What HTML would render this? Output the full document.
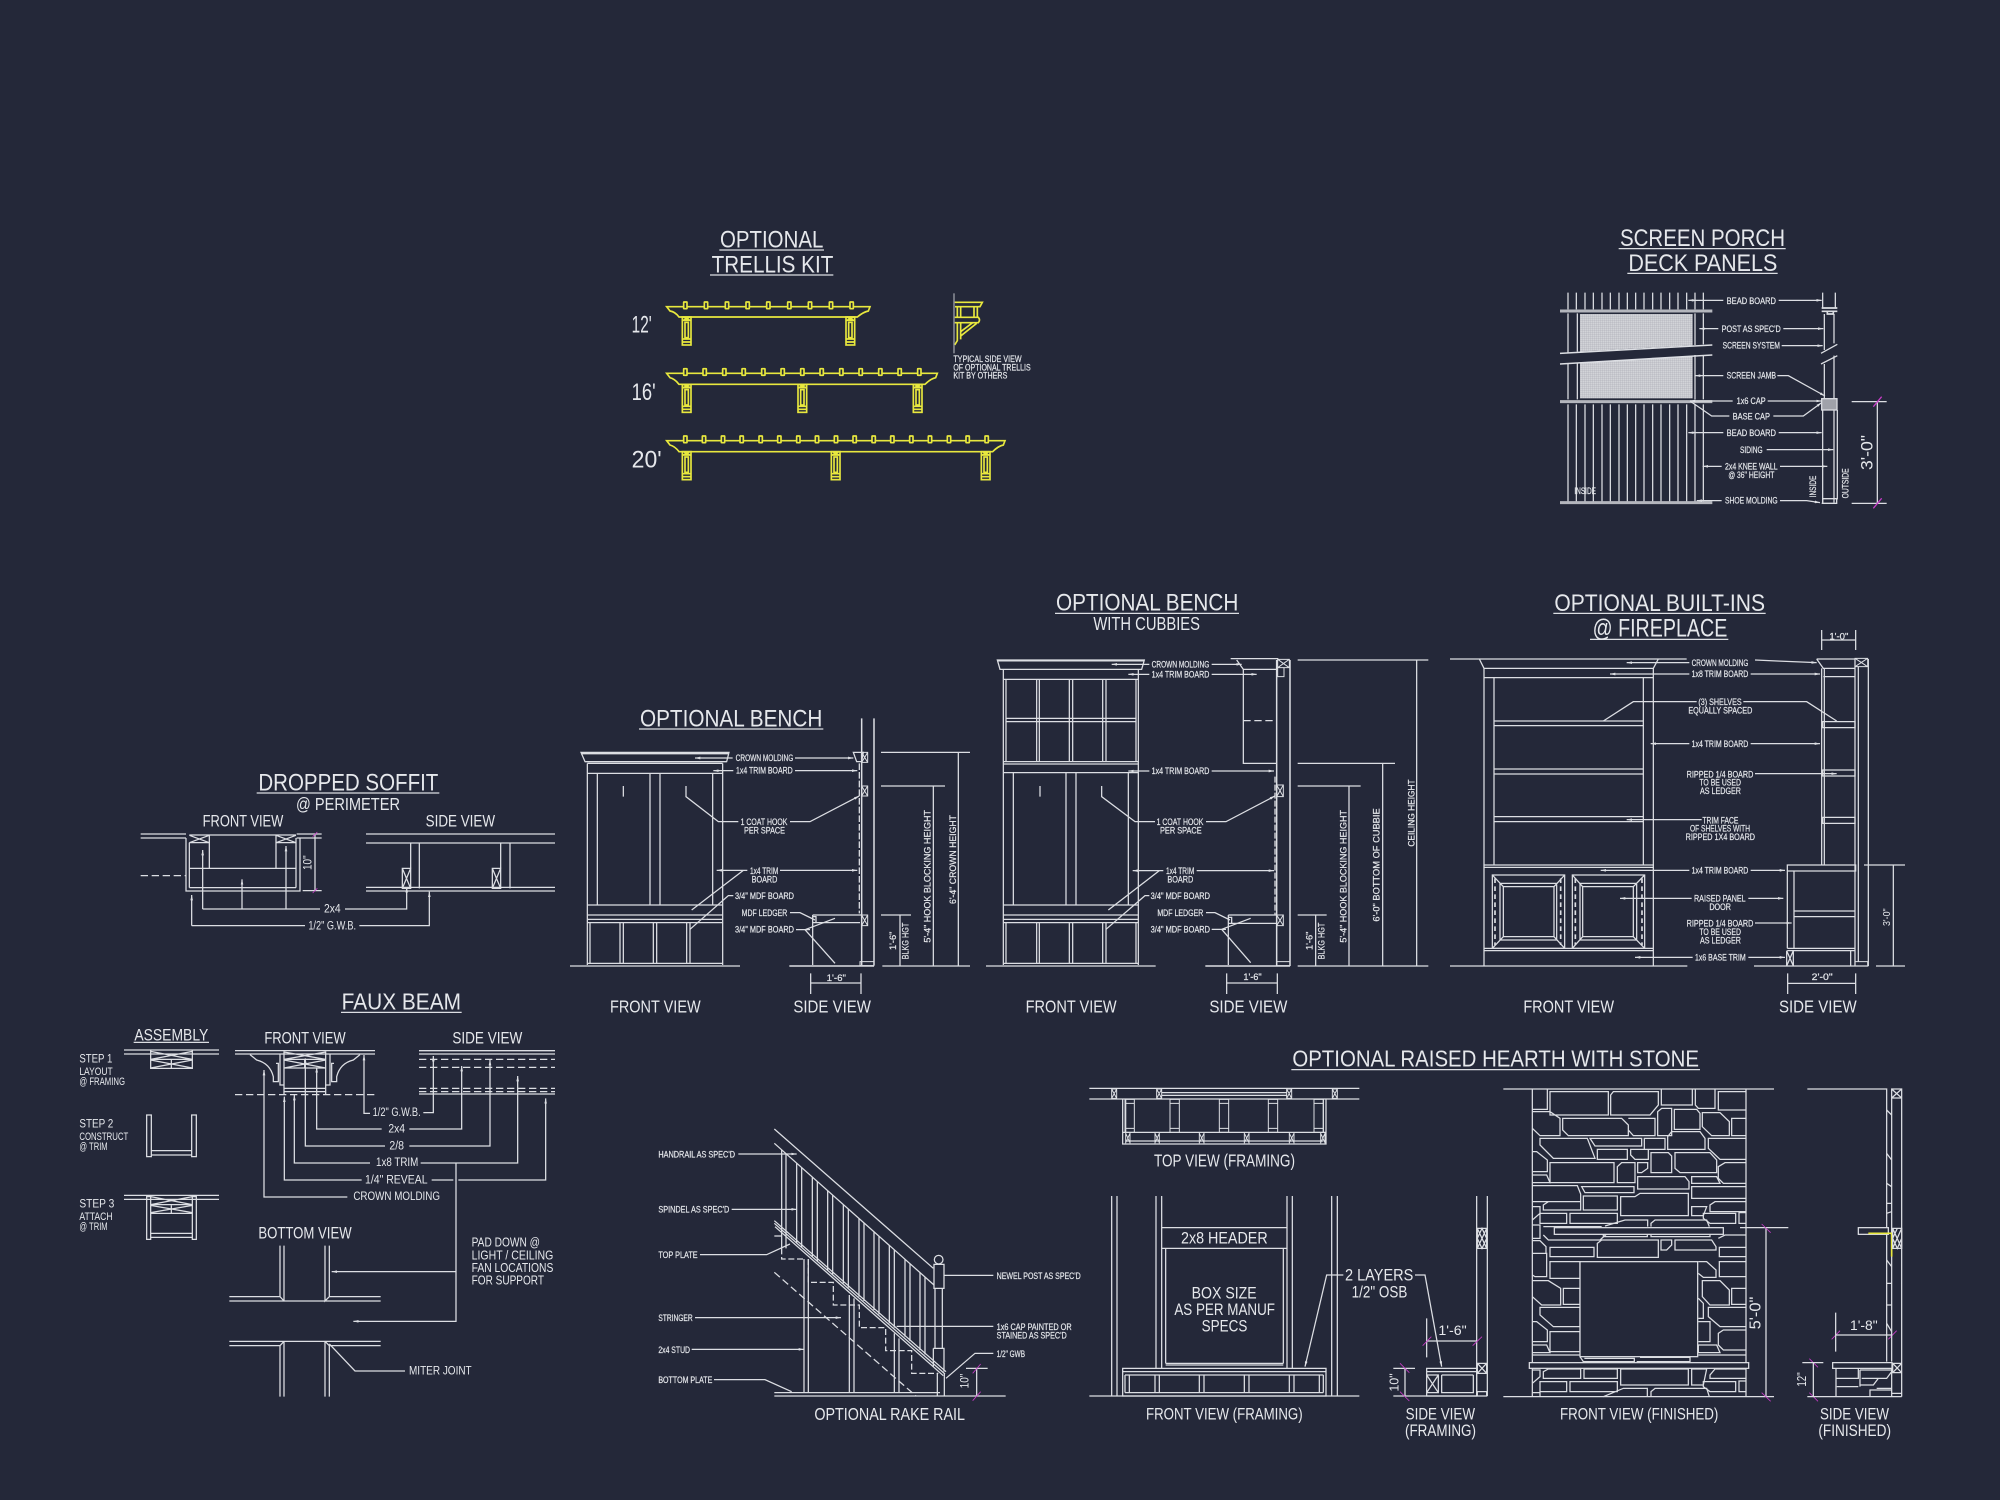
<!DOCTYPE html>
<html><head><meta charset="utf-8"><title>Optional Details</title>
<style>
html,body{margin:0;padding:0;background:#242839;width:2000px;height:1500px;overflow:hidden}
svg{display:block;filter:blur(.3px)}
g{fill:none;stroke:#dcdee3;stroke-width:3.8}
text{fill:#e6e8ec;stroke:none;font-family:"Liberation Sans",sans-serif}
.s{font-size:27px;stroke:#e6e8ec;stroke-width:.6}.m{font-size:36px}.l{font-size:50px}.t{font-size:72px}
.a{marker-end:url(#a)}
.th{stroke-width:9;stroke:#b4b6bd}
.d{stroke-dasharray:22 11}
.mg{stroke:#c83cc8}
.y{stroke:#e8e83e;stroke-width:5}
.f{fill:#242839}
.sm{stroke-width:2.5}
</style></head><body>
<svg xmlns="http://www.w3.org/2000/svg" width="2000" height="1500" viewBox="0 0 2000 1500">
<defs>
<marker id="a" markerUnits="userSpaceOnUse" markerWidth="16" markerHeight="8" refX="16" refY="4" orient="auto"><path d="M0 0L16 4L0 8Z" fill="#dcdee3" stroke="none"/></marker>
<pattern id="mesh" patternUnits="userSpaceOnUse" width="6" height="6"><rect width="6" height="6" fill="#d2d4d8"/><path d="M0 0H6M0 0V6" stroke="#9a9ca6" stroke-width="1.2"/></pattern>
<g id="p" style="stroke:#e8e83e;stroke-width:5"><rect x="0" y="0" width="26" height="84"/><rect x="8" y="16" width="10" height="46" fill="#242839"/><path d="M0 10H26M0 66H26M0 75H26M3 0L23 10M23 0L3 10"/></g>
<rect id="r" x="-5" y="-14" width="10" height="20" rx="1" fill="#242839"/>
</defs>

<!-- TRELLIS -->
<g transform="translate(600 210) scale(.33333)">
<path d="M358 120H672M330 195H700"/>
<text class="t" x="360" y="112" textLength="310" lengthAdjust="spacingAndGlyphs">OPTIONAL</text>
<text class="t" x="335" y="187" textLength="365" lengthAdjust="spacingAndGlyphs">TRELLIS KIT</text>
<text class="t" x="95" y="368" textLength="60" lengthAdjust="spacingAndGlyphs">12'</text>
<text class="t" x="95" y="570" textLength="72" lengthAdjust="spacingAndGlyphs">16'</text>
<text class="t" x="95" y="773" textLength="90" lengthAdjust="spacingAndGlyphs">20'</text>
<g class="y">
<path d="M200 290H810L805 303Q790 306 772 321H237Q225 305 210 303Z"/>
<path d="M200 490H1012L1007 503Q992 506 975 523H237Q225 507 210 503Z"/>
<path d="M200 692H1215L1210 705Q1195 708 1178 725H237Q225 709 210 705Z"/>
<use href="#r" x="256" y="290"/><use href="#r" x="318" y="290"/><use href="#r" x="381" y="290"/><use href="#r" x="443" y="290"/><use href="#r" x="505" y="290"/><use href="#r" x="568" y="290"/><use href="#r" x="630" y="290"/><use href="#r" x="693" y="290"/><use href="#r" x="755" y="290"/>
<use href="#r" x="256" y="490"/><use href="#r" x="314" y="490"/><use href="#r" x="373" y="490"/><use href="#r" x="431" y="490"/><use href="#r" x="490" y="490"/><use href="#r" x="548" y="490"/><use href="#r" x="607" y="490"/><use href="#r" x="665" y="490"/><use href="#r" x="724" y="490"/><use href="#r" x="782" y="490"/><use href="#r" x="841" y="490"/><use href="#r" x="899" y="490"/><use href="#r" x="958" y="490"/>
<use href="#r" x="256" y="692"/><use href="#r" x="312" y="692"/><use href="#r" x="369" y="692"/><use href="#r" x="425" y="692"/><use href="#r" x="482" y="692"/><use href="#r" x="538" y="692"/><use href="#r" x="595" y="692"/><use href="#r" x="651" y="692"/><use href="#r" x="708" y="692"/><use href="#r" x="764" y="692"/><use href="#r" x="821" y="692"/><use href="#r" x="877" y="692"/><use href="#r" x="934" y="692"/><use href="#r" x="990" y="692"/><use href="#r" x="1047" y="692"/><use href="#r" x="1103" y="692"/><use href="#r" x="1160" y="692"/>
<use href="#p" x="247" y="321"/><use href="#p" x="738" y="321"/>
<use href="#p" x="247" y="523"/><use href="#p" x="594" y="523"/><use href="#p" x="940" y="523"/>
<use href="#p" x="247" y="725"/><use href="#p" x="694" y="725"/><use href="#p" x="1144" y="725"/>
<path d="M1064 277H1147L1140 290H1065M1072 290V322M1082 290V322M1122 290V322M1132 290V322M1064 322H1135Q1142 330 1135 338H1064M1072 338V392L1064 405M1082 338V378L1130 340M1082 365L1118 338M1082 378V388"/>
</g>
<path d="M1062 250V430" stroke="#9a9ca5" stroke-width="4"/>
<text class="s" x="1060" y="456" textLength="205" lengthAdjust="spacingAndGlyphs">TYPICAL SIDE VIEW</text>
<text class="s" x="1060" y="481" textLength="232" lengthAdjust="spacingAndGlyphs">OF OPTIONAL TRELLIS</text>
<text class="s" x="1060" y="506" textLength="162" lengthAdjust="spacingAndGlyphs">KIT BY OTHERS</text>
</g>

<!-- SCREEN PORCH -->
<g transform="translate(1540 210) scale(.33333)">
<path d="M236 116H737M262 190H713"/>
<text class="t" x="240" y="108" textLength="495" lengthAdjust="spacingAndGlyphs">SCREEN PORCH</text>
<text class="t" x="265" y="183" textLength="447" lengthAdjust="spacingAndGlyphs">DECK PANELS</text>
<path d="M120 312H458V406L120 425Z M120 457L458 438V565H120Z" fill="url(#mesh)" stroke="none"/>
<path d="M84 248V298M109 248V298M135 248V298M160 248V298M186 248V298M211 248V298M237 248V298M262 248V298M287 248V298M312 248V298M338 248V298M363 248V298M389 248V298M414 248V298M440 248V298M465 248V298M490 248V298"/>
<path d="M84 583V875M109 583V875M135 583V875M160 583V875M186 583V875M211 583V875M237 583V875M262 583V875M287 583V875M312 583V875M338 583V875M363 583V875M389 583V875M414 583V875M440 583V875M465 583V875M490 583V875"/>
<path d="M84 310V430M112 310V425M84 462V568M112 458V568M465 310V405M490 310V403M465 435V568M490 435V568"/>
<path class="th" d="M60 303H517M60 575H517M60 878H517"/>
<path d="M60 430L517 405M60 462L517 435" stroke-width="4.5"/>
<path d="M848 248V296M886 248V296M853 312V420M882 312V400M843 430L892 403M843 462L892 437M853 462V565M882 437V565M848 600V878M882 600V878M892 600V868"/>
<path d="M845 294H892M845 304H892M862 304V312H880V304" stroke-width="5"/>
<rect x="845" y="566" width="46" height="34" fill="#a0a2aa"/>
<path d="M848 866H890V880H848Z M845 880H892" stroke-width="4"/>
<path d="M935 575H1040M935 880H1040M1012 575V880"/>
<path class="mg" d="M1000 590L1025 560M1000 895L1025 865"/>
<path class="a" d="M550 271H445"/><path class="a" d="M716 271H845"/>
<path class="a" d="M535 356H478"/><path class="a" d="M730 356H850"/>
<path class="a" d="M725 407H848"/>
<path class="a" d="M550 497H465"/><path class="a" d="M712 497H745L855 558"/>
<path class="a" d="M578 573H450"/><path class="a" d="M683 573H845"/>
<path d="M568 618H515L450 573"/><path class="a" d="M700 618H790L845 578"/>
<path class="a" d="M550 668H445"/><path class="a" d="M716 668H845"/>
<path class="a" d="M680 719H880"/>
<path class="a" d="M545 769H488"/><path class="a" d="M720 769H862"/>
<path class="a" d="M545 872H470"/><path class="a" d="M720 872H800L840 878"/>
<text class="s" x="560" y="282" textLength="148" lengthAdjust="spacingAndGlyphs">BEAD BOARD</text>
<text class="s" x="545" y="366" textLength="177" lengthAdjust="spacingAndGlyphs">POST AS SPEC'D</text>
<text class="s" x="548" y="416" textLength="172" lengthAdjust="spacingAndGlyphs">SCREEN SYSTEM</text>
<text class="s" x="560" y="506" textLength="148" lengthAdjust="spacingAndGlyphs">SCREEN JAMB</text>
<text class="s" x="590" y="582" textLength="87" lengthAdjust="spacingAndGlyphs">1x6 CAP</text>
<text class="s" x="578" y="628" textLength="112" lengthAdjust="spacingAndGlyphs">BASE CAP</text>
<text class="s" x="560" y="678" textLength="148" lengthAdjust="spacingAndGlyphs">BEAD BOARD</text>
<text class="s" x="600" y="729" textLength="68" lengthAdjust="spacingAndGlyphs">SIDING</text>
<text class="s" x="555" y="779" textLength="158" lengthAdjust="spacingAndGlyphs">2x4 KNEE WALL</text>
<text class="s" x="565" y="804" textLength="138" lengthAdjust="spacingAndGlyphs">@ 36" HEIGHT</text>
<text class="s" x="555" y="881" textLength="158" lengthAdjust="spacingAndGlyphs">SHOE MOLDING</text>
<text class="s" x="103" y="852" textLength="65" lengthAdjust="spacingAndGlyphs">INSIDE</text>
<text class="s" transform="translate(828 862) rotate(-90)" textLength="65" lengthAdjust="spacingAndGlyphs">INSIDE</text>
<text class="s" transform="translate(926 865) rotate(-90)" textLength="90" lengthAdjust="spacingAndGlyphs">OUTSIDE</text>
<text class="l" transform="translate(998 780) rotate(-90)" textLength="105" lengthAdjust="spacingAndGlyphs">3'-0"</text>
</g>

<!-- DROPPED SOFFIT -->
<g transform="translate(130 760) scale(.33333)">
<path d="M380 99H928"/>
<text class="t" x="385" y="92" textLength="540" lengthAdjust="spacingAndGlyphs">DROPPED SOFFIT</text>
<text x="498" y="150" font-size="54" textLength="312" lengthAdjust="spacingAndGlyphs">@ PERIMETER</text>
<text class="l" x="218" y="200" textLength="242" lengthAdjust="spacingAndGlyphs">FRONT VIEW</text>
<text class="l" x="887" y="200" textLength="208" lengthAdjust="spacingAndGlyphs">SIDE VIEW</text>
<path d="M32 222H168M32 234H168M168 234V393H510V234M178 248V383M498 234V383M178 325H498M178 383H498M238 225V325M438 225V325M178 225H498M178 248H238M438 248H498M178 226L238 248M238 226L178 248M438 226L498 248M498 226L438 248M500 222H575M500 234H575"/>
<path d="M32 347H168" class="d"/>
<path d="M555 222V392M518 392H575"/>
<path class="mg sm" d="M548 230L562 216M548 399L562 385"/>
<text class="m" transform="translate(545 330) rotate(-90)" textLength="44" lengthAdjust="spacingAndGlyphs">10"</text>
<path d="M708 222H1275M708 249H1275M708 382H1275M708 393H1275M842 250V325M868 250V385M1112 250V325M1140 250V385"/>
<path d="M817 325H842V385H817ZM817 325L842 385M842 325L817 385M1087 325H1112V385H1087ZM1087 325L1112 385M1112 325L1087 385"/>
<path class="a" d="M218 447V270"/><path d="M218 447H570"/><path class="a" d="M336 447V358"/><path class="a" d="M468 447V258"/><path class="a" d="M645 447H830V382"/>
<path class="a" d="M185 497V405"/><path d="M185 497H525"/><path class="a" d="M688 497H898V395"/>
<text class="m" x="582" y="458" textLength="50" lengthAdjust="spacingAndGlyphs">2x4</text>
<text class="m" x="535" y="508" textLength="143" lengthAdjust="spacingAndGlyphs">1/2" G.W.B.</text>
</g>

<!-- FAUX BEAM -->
<g transform="translate(60 980) scale(.33333)">
<path d="M843 97H1205M221 187H447"/>
<text x="845" y="88" font-size="70" textLength="358" lengthAdjust="spacingAndGlyphs">FAUX BEAM</text>
<text class="l" x="223" y="182" textLength="222" lengthAdjust="spacingAndGlyphs">ASSEMBLY</text>
<text class="l" x="613" y="190" textLength="244" lengthAdjust="spacingAndGlyphs">FRONT VIEW</text>
<text class="l" x="1177" y="190" textLength="210" lengthAdjust="spacingAndGlyphs">SIDE VIEW</text>
<text class="m" x="58" y="248" textLength="99" lengthAdjust="spacingAndGlyphs">STEP 1</text>
<text font-size="32" x="58" y="285" textLength="100" lengthAdjust="spacingAndGlyphs">LAYOUT</text>
<text font-size="32" x="58" y="315" textLength="137" lengthAdjust="spacingAndGlyphs">@ FRAMING</text>
<text class="m" x="58" y="442" textLength="102" lengthAdjust="spacingAndGlyphs">STEP 2</text>
<text font-size="32" x="58" y="480" textLength="147" lengthAdjust="spacingAndGlyphs">CONSTRUCT</text>
<text font-size="32" x="58" y="510" textLength="85" lengthAdjust="spacingAndGlyphs">@ TRIM</text>
<text class="m" x="58" y="682" textLength="105" lengthAdjust="spacingAndGlyphs">STEP 3</text>
<text font-size="32" x="58" y="720" textLength="100" lengthAdjust="spacingAndGlyphs">ATTACH</text>
<text font-size="32" x="58" y="750" textLength="85" lengthAdjust="spacingAndGlyphs">@ TRIM</text>
<path d="M192 210H477M192 222H477M272 210H397V265H272ZM272 238H397M272 214L397 238M397 214L272 238M272 240L397 264M397 240L272 264M334 240V264"/>
<path d="M260 405H274V530H260ZM395 405H409V530H395ZM274 512H395M274 525H395"/>
<path d="M192 646H477M192 658H477M272 646V700H397V646M272 674H397M272 650L397 674M397 650L272 674M272 676L397 698M397 676L272 698M334 676V700M260 650H272V778H260ZM397 650H409V778H397ZM272 760H397M272 772H397"/>
<path d="M525 212H945M525 222H945M672 214V345M797 214V345M660 222V315H672M810 222V315H797M672 325H797M672 335H797M672 238H797M672 264H797M672 216L797 238M797 216L672 238M672 240L797 264M797 240L672 264M734 240V264"/>
<path d="M570 224L590 240Q630 250 640 290V305H655V250H648M900 224L880 240Q840 250 830 290V305H815V250H822"/>
<path class="d" d="M525 344H945"/>
<path d="M1077 212H1485M1077 222H1485M1077 342H1485" stroke-width="4"/>
<path class="d" d="M1077 238H1485M1077 262H1485M1077 325H1485M1077 335H1485"/>
<path class="a" d="M862 651H612V270"/><path class="a" d="M905 600H673V350"/><path class="a" d="M930 549H703V345"/><path class="a" d="M975 498H736V235"/><path class="a" d="M965 447H770V262"/><path class="a" d="M930 400H912V225"/>
<path class="a" d="M1090 398H1120V228"/><path class="a" d="M1048 447H1205V258"/><path class="a" d="M1048 498H1290V240"/><path class="a" d="M1082 549H1373V288"/><path class="a" d="M1115 600H1180M1195 600H1457V355"/>
<path class="a" d="M1188 549V1024H880"/><path class="a" d="M1188 875H815"/>
<text class="m" x="938" y="408" textLength="144" lengthAdjust="spacingAndGlyphs">1/2" G.W.B.</text>
<text class="m" x="985" y="458" textLength="50" lengthAdjust="spacingAndGlyphs">2x4</text>
<text class="m" x="988" y="508" textLength="44" lengthAdjust="spacingAndGlyphs">2/8</text>
<text class="m" x="948" y="558" textLength="127" lengthAdjust="spacingAndGlyphs">1x8 TRIM</text>
<text class="m" x="915" y="610" textLength="188" lengthAdjust="spacingAndGlyphs">1/4" REVEAL</text>
<text class="m" x="880" y="660" textLength="260" lengthAdjust="spacingAndGlyphs">CROWN MOLDING</text>
<text class="l" x="595" y="775" textLength="280" lengthAdjust="spacingAndGlyphs">BOTTOM VIEW</text>
<path d="M660 797V950L672 963M672 797V963H795M795 797V963L808 950M808 797V950M508 950H660M508 963H672M808 950H962M795 963H962"/>
<path d="M508 1084H962M508 1097H660M660 1097V1250M672 1084V1250M660 1097L672 1084M795 1084V1250M808 1097V1250M795 1084L808 1097M808 1097H962"/>
<path d="M1035 1173H885L808 1092"/>
<text class="m" x="1047" y="1183" textLength="188" lengthAdjust="spacingAndGlyphs">MITER JOINT</text>
<text font-size="38" x="1235" y="800" textLength="205" lengthAdjust="spacingAndGlyphs">PAD DOWN @</text>
<text font-size="38" x="1235" y="838" textLength="245" lengthAdjust="spacingAndGlyphs">LIGHT / CEILING</text>
<text font-size="38" x="1235" y="876" textLength="245" lengthAdjust="spacingAndGlyphs">FAN LOCATIONS</text>
<text font-size="38" x="1235" y="914" textLength="217" lengthAdjust="spacingAndGlyphs">FOR SUPPORT</text>
</g>

<!-- OPTIONAL BENCH -->
<g transform="translate(570 700) scale(.33333)">
<path d="M207 87H760"/>
<text class="t" x="210" y="80" textLength="547" lengthAdjust="spacingAndGlyphs">OPTIONAL BENCH</text>
<path d="M33 157H477L470 185H45Z" /><path d="M33 160H477" stroke-width="6"/>
<path d="M45 185H470M52 190H458M52 190V795M458 190V795M52 220H458M82 220V615M240 220V615M270 220V615M428 220V615M52 615H458M52 645H458M52 658H458M52 668H458M60 668V790M150 668V790M160 668V790M250 668V790M260 668V790M350 668V790M360 668V790M52 790H458M0 798H510M160 258V290M348 258V290L445 365H505"/>
<path d="M875 55V795M912 55V795M658 798H912" stroke-width="4.5"/>
<path d="M868 190V640" stroke-dasharray="20 6"/>
<path d="M850 157H880L875 185H860Z"/>
<path d="M875 157H893V187H875ZM875 258H893V288H875ZM875 645H893V677H875ZM870 785H912V797H870ZM875 157L893 187M893 157L875 187M875 258L893 288M893 258L875 288M875 645L893 677M893 645L875 677" stroke-width="3"/>
<path d="M728 645H875M728 668H870M728 645V795M728 650H738V668"/>
<path d="M933 157H1200M1165 157V798M933 258H1125M1090 258V798M933 645H1023M990 645V798M937 798H1200"/>
<text class="s" transform="translate(1158 612) rotate(-90)" textLength="267" lengthAdjust="spacingAndGlyphs">6'-4" CROWN HEIGHT</text>
<text class="s" transform="translate(1082 728) rotate(-90)" textLength="398" lengthAdjust="spacingAndGlyphs">5'-4" HOOK BLOCKING HEIGHT</text>
<text class="s" transform="translate(978 750) rotate(-90)" textLength="55" lengthAdjust="spacingAndGlyphs">1'-6"</text>
<text class="s" transform="translate(1015 778) rotate(-90)" textLength="110" lengthAdjust="spacingAndGlyphs">BLKG HGT</text>
<path class="a" d="M488 174H375"/><path class="a" d="M675 174H850"/>
<path class="a" d="M490 212H430"/><path class="a" d="M675 212H862"/>
<path class="a" d="M660 365H720L868 288"/>
<path class="a" d="M532 511H440"/><path class="a" d="M630 511H862"/>
<path d="M520 511L365 630M490 587H475L360 688M660 638H690L735 660M678 689H720M705 689L795 655M705 689L795 790"/>
<text class="s" x="497" y="183" textLength="173" lengthAdjust="spacingAndGlyphs">CROWN MOLDING</text>
<text class="s" x="498" y="221" textLength="170" lengthAdjust="spacingAndGlyphs">1x4 TRIM BOARD</text>
<text class="s" x="512" y="375" textLength="140" lengthAdjust="spacingAndGlyphs">1 COAT HOOK</text>
<text class="s" x="522" y="400" textLength="123" lengthAdjust="spacingAndGlyphs">PER SPACE</text>
<text class="s" x="540" y="522" textLength="85" lengthAdjust="spacingAndGlyphs">1x4 TRIM</text>
<text class="s" x="545" y="547" textLength="77" lengthAdjust="spacingAndGlyphs">BOARD</text>
<text class="s" x="495" y="597" textLength="177" lengthAdjust="spacingAndGlyphs">3/4" MDF BOARD</text>
<text class="s" x="515" y="648" textLength="137" lengthAdjust="spacingAndGlyphs">MDF LEDGER</text>
<text class="s" x="495" y="698" textLength="177" lengthAdjust="spacingAndGlyphs">3/4" MDF BOARD</text>
<path d="M722 820V882M873 820V882M722 849H873"/>
<text class="s" x="770" y="843" textLength="58" lengthAdjust="spacingAndGlyphs">1'-6"</text>
<text x="120" y="938" font-size="54" textLength="272" lengthAdjust="spacingAndGlyphs">FRONT VIEW</text>
<text x="670" y="938" font-size="54" textLength="233" lengthAdjust="spacingAndGlyphs">SIDE VIEW</text>
</g>

<!-- BENCH WITH CUBBIES -->
<g transform="translate(980 580) scale(.33333)">
<path d="M225 100H777"/>
<text class="t" x="228" y="92" textLength="547" lengthAdjust="spacingAndGlyphs">OPTIONAL BENCH</text>
<text x="340" y="150" font-size="56" textLength="320" lengthAdjust="spacingAndGlyphs">WITH CUBBIES</text>
<path d="M52 240H493L485 268H60Z"/><path d="M52 242H493" stroke-width="5"/>
<path d="M70 268V1155M475 268V1155M70 298H475M78 298V545M170 298V545M178 298V545M268 298V545M278 298V545M368 298V545M378 298V545M468 298V545M78 415H468M78 425H468M70 545H475M70 552H475M70 578H475M100 578V975M258 578V975M288 578V975M445 578V975M70 975H475M70 1005H475M70 1018H475M70 1028H475M78 1028V1150M170 1028V1150M178 1028V1150M268 1028V1150M278 1028V1150M368 1028V1150M378 1028V1150M468 1028V1150M70 1150H475M18 1158H527"/>
<path d="M180 618V650M365 618V650L465 725H525"/>
<path d="M890 240V1158M930 240V1158M676 1158H930" stroke-width="4.5"/>
<path d="M752 236H895M770 240L790 268H890M790 268V550H890M745 1005H890M745 1030H890M745 1005V1155M745 1012H755V1030"/>
<path d="M790 422H890" class="d"/>
<path d="M885 590V1005" stroke-dasharray="18 6"/>
<path d="M893 238H928V263H893ZM893 238L928 263M928 238L893 263M893 263H912V290H893ZM890 615H910V650H890ZM890 615L910 650M910 615L890 650M890 1005H910V1037H890ZM890 1005L910 1037M910 1005L890 1037M890 1145H930V1157H890Z" stroke-width="3"/>
<path d="M953 240H1345M1310 240V1158M953 550H1245M1208 550V1158M953 618H1142M1107 618V1158M953 1005H1040M1007 1005V1158M953 1158H1345"/>
<text class="s" transform="translate(1303 800) rotate(-90)" textLength="202" lengthAdjust="spacingAndGlyphs">CEILING HEIGHT</text>
<text class="s" transform="translate(1198 1025) rotate(-90)" textLength="340" lengthAdjust="spacingAndGlyphs">6'-0" BOTTOM OF CUBBIE</text>
<text class="s" transform="translate(1100 1088) rotate(-90)" textLength="398" lengthAdjust="spacingAndGlyphs">5'-4" HOOK BLOCKING HEIGHT</text>
<text class="s" transform="translate(998 1110) rotate(-90)" textLength="55" lengthAdjust="spacingAndGlyphs">1'-6"</text>
<text class="s" transform="translate(1033 1138) rotate(-90)" textLength="110" lengthAdjust="spacingAndGlyphs">BLKG HGT</text>
<path class="a" d="M508 253H395"/><path class="a" d="M695 253H785"/>
<path class="a" d="M508 283H445"/><path class="a" d="M695 283H830"/>
<path class="a" d="M508 573H445"/><path class="a" d="M695 573H882"/>
<path class="a" d="M678 725H738L885 648"/>
<path class="a" d="M550 872H458"/><path class="a" d="M650 872H882"/>
<path d="M538 872L385 990M508 947H495L378 1048M678 998H705L750 1020M695 1048H738M725 1048L812 1015M725 1048L812 1148"/>
<text class="s" x="515" y="262" textLength="173" lengthAdjust="spacingAndGlyphs">CROWN MOLDING</text>
<text class="s" x="515" y="293" textLength="173" lengthAdjust="spacingAndGlyphs">1x4 TRIM BOARD</text>
<text class="s" x="515" y="582" textLength="173" lengthAdjust="spacingAndGlyphs">1x4 TRIM BOARD</text>
<text class="s" x="530" y="735" textLength="140" lengthAdjust="spacingAndGlyphs">1 COAT HOOK</text>
<text class="s" x="540" y="760" textLength="125" lengthAdjust="spacingAndGlyphs">PER SPACE</text>
<text class="s" x="558" y="882" textLength="85" lengthAdjust="spacingAndGlyphs">1x4 TRIM</text>
<text class="s" x="562" y="907" textLength="78" lengthAdjust="spacingAndGlyphs">BOARD</text>
<text class="s" x="512" y="957" textLength="178" lengthAdjust="spacingAndGlyphs">3/4" MDF BOARD</text>
<text class="s" x="532" y="1008" textLength="138" lengthAdjust="spacingAndGlyphs">MDF LEDGER</text>
<text class="s" x="512" y="1058" textLength="178" lengthAdjust="spacingAndGlyphs">3/4" MDF BOARD</text>
<path d="M740 1180V1242M892 1180V1242M740 1209H892"/>
<text class="s" x="790" y="1200" textLength="55" lengthAdjust="spacingAndGlyphs">1'-6"</text>
<text x="137" y="1298" font-size="54" textLength="273" lengthAdjust="spacingAndGlyphs">FRONT VIEW</text>
<text x="688" y="1298" font-size="54" textLength="234" lengthAdjust="spacingAndGlyphs">SIDE VIEW</text>
</g>

<!-- BUILT-INS -->
<g transform="translate(1440 580) scale(.33333)">
<path d="M340 100H977M450 178H865"/>
<text class="t" x="343" y="93" textLength="632" lengthAdjust="spacingAndGlyphs">OPTIONAL BUILT-INS</text>
<text x="458" y="170" font-size="74" textLength="404" lengthAdjust="spacingAndGlyphs">@ FIREPLACE</text>
<text class="s" x="1168" y="178" textLength="57" lengthAdjust="spacingAndGlyphs">1'-0"</text>
<path d="M1145 150V210M1247 150V210M1145 180H1247"/>
<path d="M30 237H740M118 237L132 265H640L655 237M132 265V1158M640 265V1158M132 293H640M162 293V855M610 293V855M162 423H610M162 437H610M162 567H610M162 582H610M162 710H610M162 725H610M130 855H642M130 862H642M132 1105H640M132 1112H640M30 1158H742M942 1158H1285"/>
<path d="M157 885H374V1105H157ZM397 885H614V1105H397Z"/>
<path d="M180 910H350V1080H180ZM420 910H590V1080H420ZM190 920H342V1070H190ZM428 920H580V1070H428ZM157 885L190 920M374 885L342 920M157 1105L190 1070M374 1105L342 1070M397 885L428 920M614 885L580 920M397 1105L428 1070M614 1105L580 1070"/>
<path d="M165 895V1095M362 895V1095M406 895V1095M606 895V1095" stroke-dasharray="14 10" stroke-width="5"/>
<path d="M1145 265V855M1153 265V855M1130 237H1245M1130 237L1150 265H1245M1150 290H1245M1245 237V1158M1285 237V1158M1255 260V1145M1042 855H1247V873H1042ZM1042 873V1105M1062 873V1105M1062 993H1245M1062 1010H1245M1042 1105H1245M1042 1112H1245M1040 1112V1158M1060 1112V1158M1040 1112L1060 1158M1060 1112L1040 1158M1232 1112V1158"/>
<path d="M1148 425H1245V443H1148ZM1148 570H1245V588H1148ZM1148 712H1245V730H1148Z"/>
<path d="M1245 235H1283V260H1245ZM1245 235L1283 260M1283 235L1245 260M1245 1145H1283V1158H1245Z" stroke-width="3"/>
<path d="M1272 855H1395M1360 855V1158M1308 1158H1395"/>
<text font-size="30" transform="translate(1350 1038) rotate(-90)" textLength="53" lengthAdjust="spacingAndGlyphs">3'-0"</text>
<path d="M1043 1180V1242M1247 1180V1242M1043 1210H1247"/>
<text class="s" x="1115" y="1200" textLength="63" lengthAdjust="spacingAndGlyphs">2'-0"</text>
<path class="a" d="M748 248H560"/><path class="a" d="M945 240L1130 248"/>
<path class="a" d="M748 282H510"/><path class="a" d="M932 282H1140"/>
<path d="M770 365H580L490 423M910 365H1100L1190 423"/>
<path class="a" d="M748 491H632"/><path class="a" d="M932 491H1140"/>
<path class="a" d="M945 581H1190"/>
<path class="a" d="M785 719H560"/>
<path class="a" d="M748 871H482"/><path class="a" d="M932 871H1035"/>
<path class="a" d="M755 955H540"/><path class="a" d="M925 955H1030"/>
<path class="a" d="M945 1029H1055"/>
<path class="a" d="M758 1132H585"/><path class="a" d="M925 1132H1035"/>
<text class="s" x="755" y="258" textLength="170" lengthAdjust="spacingAndGlyphs">CROWN MOLDING</text>
<text class="s" x="755" y="291" textLength="170" lengthAdjust="spacingAndGlyphs">1x8 TRIM BOARD</text>
<text class="s" x="775" y="375" textLength="130" lengthAdjust="spacingAndGlyphs">(3) SHELVES</text>
<text class="s" x="745" y="400" textLength="192" lengthAdjust="spacingAndGlyphs">EQUALLY SPACED</text>
<text class="s" x="755" y="501" textLength="170" lengthAdjust="spacingAndGlyphs">1x4 TRIM BOARD</text>
<text class="s" x="740" y="592" textLength="200" lengthAdjust="spacingAndGlyphs">RIPPED 1/4 BOARD</text>
<text class="s" x="778" y="617" textLength="125" lengthAdjust="spacingAndGlyphs">TO BE USED</text>
<text class="s" x="780" y="642" textLength="123" lengthAdjust="spacingAndGlyphs">AS LEDGER</text>
<text class="s" x="787" y="730" textLength="108" lengthAdjust="spacingAndGlyphs">TRIM FACE</text>
<text class="s" x="750" y="755" textLength="180" lengthAdjust="spacingAndGlyphs">OF SHELVES WITH</text>
<text class="s" x="737" y="780" textLength="208" lengthAdjust="spacingAndGlyphs">RIPPED 1X4 BOARD</text>
<text class="s" x="755" y="881" textLength="170" lengthAdjust="spacingAndGlyphs">1x4 TRIM BOARD</text>
<text class="s" x="762" y="965" textLength="155" lengthAdjust="spacingAndGlyphs">RAISED PANEL</text>
<text class="s" x="808" y="990" textLength="65" lengthAdjust="spacingAndGlyphs">DOOR</text>
<text class="s" x="740" y="1040" textLength="200" lengthAdjust="spacingAndGlyphs">RIPPED 1/4 BOARD</text>
<text class="s" x="778" y="1065" textLength="125" lengthAdjust="spacingAndGlyphs">TO BE USED</text>
<text class="s" x="780" y="1090" textLength="123" lengthAdjust="spacingAndGlyphs">AS LEDGER</text>
<text class="s" x="765" y="1141" textLength="152" lengthAdjust="spacingAndGlyphs">1x6 BASE TRIM</text>
<text x="250" y="1298" font-size="54" textLength="272" lengthAdjust="spacingAndGlyphs">FRONT VIEW</text>
<text x="1017" y="1298" font-size="54" textLength="233" lengthAdjust="spacingAndGlyphs">SIDE VIEW</text>
</g>

<!-- RAKE RAIL -->
<g transform="translate(640 1110) scale(.33333)">
<path d="M403 57L880 475M403 100L882 525"/>
<path d="M403 332L918 785M403 340L915 792M405 350L910 797"/>
<path d="M425 120V415M438 131V415M470 159V400M485 173V413M517 201V440M532 214V453M563 242V480M578 255V493M610 284V520M625 297V533M657 325V560M672 339V573M702 365V600M717 378V613M748 406V640M763 419V653M795 448V680M810 461V693M840 488V720M855 501V733"/>
<path d="M425 415V447H492M505 447V517H580V585H658V653H737V722H815V790H895" stroke-dasharray="18 8"/>
<path d="M403 378H425"/>
<path d="M403 487L828 858" class="d"/>
<path d="M492 447V848M505 447V848M628 555V848M642 565V848M763 670V848M777 685V848M892 790V858M913 790V858"/>
<path d="M403 848H900M403 858H1097"/>
<circle cx="896" cy="449" r="13"/>
<path d="M882 463H912V535H882ZM885 535V715M907 535V715M880 715H912V785M880 715V770"/>
<path d="M978 775H1043M1010 775V858"/>
<path class="mg sm" d="M998 790L1022 762M998 872L1022 845"/>
<text class="m" transform="translate(985 835) rotate(-90)" textLength="44" lengthAdjust="spacingAndGlyphs">10"</text>
<path class="a" d="M295 132H470"/><path class="a" d="M275 298H470"/>
<path d="M180 434H380L450 402"/>
<path class="a" d="M165 623H603"/><path class="a" d="M155 718H492"/>
<path d="M222 809H375L455 845M1060 496H912M1060 649H770M1060 730H1005L918 805"/>
<text class="s" x="55" y="143" textLength="230" lengthAdjust="spacingAndGlyphs">HANDRAIL AS SPEC'D</text>
<text class="s" x="55" y="308" textLength="213" lengthAdjust="spacingAndGlyphs">SPINDEL AS SPEC'D</text>
<text class="s" x="55" y="444" textLength="118" lengthAdjust="spacingAndGlyphs">TOP PLATE</text>
<text class="s" x="55" y="633" textLength="103" lengthAdjust="spacingAndGlyphs">STRINGER</text>
<text class="s" x="55" y="729" textLength="95" lengthAdjust="spacingAndGlyphs">2x4 STUD</text>
<text class="s" x="55" y="819" textLength="162" lengthAdjust="spacingAndGlyphs">BOTTOM PLATE</text>
<text class="s" x="1070" y="507" textLength="252" lengthAdjust="spacingAndGlyphs">NEWEL POST AS SPEC'D</text>
<text class="s" x="1070" y="660" textLength="225" lengthAdjust="spacingAndGlyphs">1x6 CAP PAINTED OR</text>
<text class="s" x="1070" y="686" textLength="210" lengthAdjust="spacingAndGlyphs">STAINED AS SPEC'D</text>
<text class="s" x="1070" y="741" textLength="85" lengthAdjust="spacingAndGlyphs">1/2" GWB</text>
<text x="523" y="930" font-size="54" textLength="452" lengthAdjust="spacingAndGlyphs">OPTIONAL RAKE RAIL</text>
</g>

<!-- HEARTH FRAMING -->
<g transform="translate(1080 1040) scale(.33333)">
<path d="M634 89H1860"/>
<text x="637" y="80" font-size="70" textLength="1220" lengthAdjust="spacingAndGlyphs">OPTIONAL RAISED HEARTH WITH STONE</text>
<path d="M28 145H838M28 177H838M245 158H620M245 166H620M128 177V312H738V177M137 177V277M730 177V277M128 277H738M137 303H730"/>
<path d="M95 147H110V175H95ZM230 147H245V175H230ZM620 147H635V175H620ZM757 147H772V175H757ZM95 147L110 175M110 147L95 175M230 147L245 175M245 147L230 175M620 147L635 175M635 147L620 175M757 147L772 175M772 147L757 175" stroke-width="3"/>
<path d="M135 178H163V277H135ZM270 178H298V277H270ZM418 178H446V277H418ZM565 178H593V277H565ZM702 178H730V277H702ZM135 190H163M135 265H163M270 190H298M270 265H298M418 190H446M418 265H446M565 190H593M565 265H593M702 190H730M702 265H730" stroke-width="3"/>
<path d="M137 277V310M150 277V310M225 277V310M238 277V310M358 277V310M372 277V310M493 277V310M507 277V310M628 277V310M642 277V310M722 277V310M735 277V310M137 280L150 308M150 280L137 308M225 280L238 308M238 280L225 308M358 280L372 308M372 280L358 308M493 280L507 308M507 280L493 308M628 280L642 308M642 280L628 308M722 280L735 308M735 280L722 308" stroke-width="3"/>
<text x="222" y="380" font-size="52" textLength="423" lengthAdjust="spacingAndGlyphs">TOP VIEW (FRAMING)</text>
<path d="M95 468V1068M111 468V1068M228 468V985M245 468V985M621 468V985M637 468V985M755 468V1068M772 468V1068M245 563H621M245 625H621M257 625V970M610 625V970M257 970H610M257 975H610M28 1068H838"/>
<path d="M128 985H738V1068H128ZM128 995H738M135 1005H730M135 1058H730M135 1005V1058M148 1005V1058M225 1005V1058M238 1005V1058M358 1005V1058M372 1005V1058M493 1005V1058M507 1005V1058M628 1005V1058M642 1005V1058M718 1005V1058M730 1005V1058"/>
<text x="303" y="610" font-size="50" textLength="260" lengthAdjust="spacingAndGlyphs">2x8 HEADER</text>
<text x="335" y="775" font-size="50" textLength="195" lengthAdjust="spacingAndGlyphs">BOX SIZE</text>
<text x="283" y="825" font-size="50" textLength="302" lengthAdjust="spacingAndGlyphs">AS PER MANUF</text>
<text x="365" y="875" font-size="50" textLength="137" lengthAdjust="spacingAndGlyphs">SPECS</text>
<text x="795" y="722" font-size="50" textLength="205" lengthAdjust="spacingAndGlyphs">2 LAYERS</text>
<text x="815" y="772" font-size="50" textLength="167" lengthAdjust="spacingAndGlyphs">1/2" OSB</text>
<path class="a" d="M790 705H740L675 980"/><path class="a" d="M1005 705H1035L1085 980"/>
<path d="M1190 468V1068M1222 468V1068M1192 565H1220V625H1192ZM1192 565L1220 625M1220 565L1192 625M1206 565L1192 595L1206 625L1220 595ZM1192 970H1220V1000H1192ZM1192 970L1220 1000M1220 970L1192 1000M1192 1055H1220V1068H1192ZM940 1068H1222"/>
<path d="M1040 985H1190V1068H1040ZM1040 995H1190M1040 1005H1075V1058H1040ZM1085 1005V1058H1180V1005M1085 1005H1180M1040 1005L1075 1058M1075 1005L1040 1058"/>
<path d="M1040 835V952M1040 903H1190M940 985H1005M975 985V1068"/>
<path class="mg sm" d="M1028 917L1054 890M1178 917L1206 890M960 970L988 998M960 1055L988 1083"/>
<text x="1075" y="885" font-size="42" textLength="85" lengthAdjust="spacingAndGlyphs">1'-6"</text>
<text font-size="40" transform="translate(955 1055) rotate(-90)" textLength="55" lengthAdjust="spacingAndGlyphs">10"</text>
<text x="198" y="1138" font-size="50" textLength="470" lengthAdjust="spacingAndGlyphs">FRONT VIEW (FRAMING)</text>
<text x="977" y="1138" font-size="50" textLength="208" lengthAdjust="spacingAndGlyphs">SIDE VIEW</text>
<text x="975" y="1188" font-size="50" textLength="213" lengthAdjust="spacingAndGlyphs">(FRAMING)</text>
</g>

<!-- HEARTH FINISHED -->
<g transform="translate(1490 1070) scale(.33333)">
<path d="M40 57H852M40 980H852M127 57V980M768 57V980"/>
<path d="M127 118H172V57M180 65H355V135H180ZM362 75L370 65H505V105L480 135H362ZM514 57V105H607V57M616 57V105L625 115H675V57M768 65H685V120H768M127 125H180L210 145V197H150L127 175M218 145H395L415 165V197H235L218 180ZM415 145H495V197H430L415 180M503 197V125L515 115H545V197ZM553 118H620L630 130V178H553ZM637 128H690L718 155V197H665L637 170ZM768 145H725V197H768"/>
<path d="M150 205H292L315 265H190L150 225ZM127 245H140L172 270V305H127M300 205H455V228H315ZM322 238H412V268H322ZM422 238H475V268H435L422 255ZM463 205H525V238H463ZM533 200L545 185H630L645 205V238H533ZM768 205H655V235L690 268H768M483 248H535L545 258V308H483ZM555 248H660L680 270V308H570L555 295ZM180 278H372V338H180ZM382 290L395 278H435V338H382ZM443 278H473V295L455 308H443ZM768 278H705L685 290V325L700 340H768"/>
<path d="M127 315H170L180 338H127M443 320H585L597 335V357H443ZM605 320H680L690 340H605ZM127 347H262L272 372V395H127M275 350H432V368H285ZM280 378H382V420H280ZM392 380H435L450 370H595V437H392ZM768 350H605V385H768M605 410H650L640 437H605ZM768 395H675L660 405V425H768M127 410H150V430L127 450M160 405L175 395H272V420H160ZM150 430H230V460H150ZM240 430H382V460H240ZM640 430H737V460H660L640 445ZM768 428H747V460H768"/>
<path d="M127 465H150V505H127M160 470H335M345 468L405 450H473V470M483 470V460L495 450H650L658 470M127 512H150L168 530V550H127M160 495L175 510H330L350 492M180 532H312V560H180ZM322 520L335 510H505V562H322ZM513 510H545V525L530 540H513ZM555 510H665L678 530V540H555ZM685 505L705 495H768M768 532H688V560H768M127 550H170V620H135L127 615M340 492H472V500H340ZM483 492H660V500H483Z"/>
<path d="M180 575H270V625H180ZM127 632H175L212 655V705H155L127 680M220 655H270V703H220ZM150 712H270V770H190L150 735ZM127 755H140L172 780V815H127M180 785H270V845H180ZM127 825H170L180 848H127M625 575H650L678 600V622H640L625 610M768 575H688V620H768M637 632H690L718 660V705H660L637 680ZM768 655H725V703H768M768 712H655V740L690 770H768M625 685L640 700V745H625M625 755H660V815H625M768 780H700L685 790V825L700 840H768M625 825H680L690 848H625ZM127 855H270M625 855H768M270 860L280 875H433V865H283M440 875H600V862H450"/>
<path d="M127 900H150V920L127 940M160 905L175 897H272V925H160ZM282 897H382V925H282ZM392 897H595V945H392ZM605 897H650L640 945H605ZM768 897H675L660 915V925H768M150 935H230V965H150ZM240 935H382V965H240ZM640 935H737V965H660L640 950ZM768 933H747V965H768M340 980L400 955H472V980M483 980V965L495 955H650L658 980M127 968H150V980"/>
<rect class="f" x="270" y="575" width="353" height="285"/>
<rect class="f" x="193" y="473" width="507" height="20"/>
<rect class="f" x="118" y="878" width="658" height="17"/>
<path d="M750 473H895M828 473V980"/>
<path class="mg sm" d="M815 462L842 488M815 968L842 994M1025 808L1050 782M1195 808L1220 782M958 866L984 892M958 968L984 994"/>
<text font-size="46" transform="translate(812 778) rotate(-90)" textLength="98" lengthAdjust="spacingAndGlyphs">5'-0"</text>
<path d="M952 57H1190V875M1205 57V875M1235 57V980M952 980H1235M1205 57H1235V84H1205ZM1205 57L1235 84M1235 57L1205 84M1028 878H1206V895H1028ZM1038 895V980M1205 895V980M1208 880H1235V908H1208ZM1208 880L1235 908M1235 880L1208 908M1205 970H1235"/>
<path d="M1190 120L1205 135M1190 250L1205 270M1190 340L1205 350M1190 400H1205M1190 430L1205 425M1190 570L1205 590M1190 640H1205M1190 705H1205M1190 760L1205 785"/>
<rect class="f" x="1105" y="473" width="90" height="20"/>
<path class="y" d="M1135 490H1205V560"/>
<path d="M1208 475H1235V535H1208ZM1208 475L1235 535M1235 475L1208 535M1222 475L1208 505L1222 535L1235 505"/>
<path d="M1038 925H1105V895M1110 900H1205M1110 900V950M1110 945H1150L1165 925H1115M1120 925H1190L1205 905M1040 950H1105M1160 955H1205M1140 980V960H1205"/>
<path d="M1037 728V845M1037 795H1205M937 878H1000M970 878V980"/>
<text x="1080" y="780" font-size="42" textLength="83" lengthAdjust="spacingAndGlyphs">1'-8"</text>
<text font-size="38" transform="translate(948 950) rotate(-90)" textLength="43" lengthAdjust="spacingAndGlyphs">12"</text>
<text x="210" y="1048" font-size="50" textLength="475" lengthAdjust="spacingAndGlyphs">FRONT VIEW (FINISHED)</text>
<text x="990" y="1048" font-size="50" textLength="207" lengthAdjust="spacingAndGlyphs">SIDE VIEW</text>
<text x="985" y="1098" font-size="50" textLength="218" lengthAdjust="spacingAndGlyphs">(FINISHED)</text>
</g>
</svg>
</body></html>
